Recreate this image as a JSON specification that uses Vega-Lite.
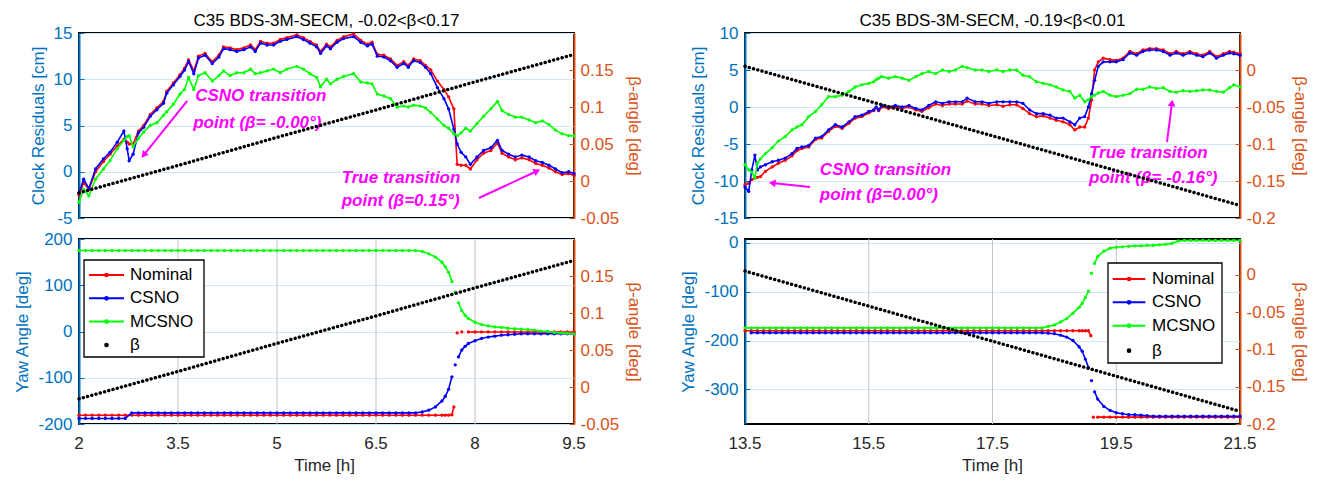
{
"$schema": "https://vega.github.io/schema/vega-lite/v6.json",
"background": "white",
"padding": {"left": 12, "top": 11, "right": 0, "bottom": 0},
"config": {
 "font": "Liberation Sans",
 "view": {"stroke": "#000000", "strokeWidth": 2},
 "axis": {"labelFont": "Liberation Sans", "titleFont": "Liberation Sans", "labelFontSize": 17, "titleFontSize": 17, "titleFontWeight": "normal"},
 "title": {"font": "Liberation Sans", "fontSize": 17, "fontWeight": "normal", "color": "#000000"}
},
"datasets": {
 "lt": [
  {"t":2.00,"n":-2.5,"c":-2.3,"m":-3.3},{"t":2.07,"n":-1.2,"c":-0.8,"m":-1.9},{"t":2.15,"n":-1.9,"c":-1.8,"m":-2.6},{"t":2.25,"n":0.0,"c":0.3,"m":-0.8},
  {"t":2.37,"n":1.1,"c":1.4,"m":0.3},{"t":2.47,"n":1.9,"c":2.1,"m":1.2},{"t":2.58,"n":2.8,"c":3.2,"m":2.5},{"t":2.68,"n":3.5,"c":4.4,"m":3.4},
  {"t":2.73,"n":3.2,"c":2.5,"m":3.8},{"t":2.76,"n":3.0,"c":1.2,"m":3.9},{"t":2.82,"n":3.0,"c":1.9,"m":2.7},{"t":2.90,"n":4.4,"c":4.2,"m":3.6},
  {"t":2.98,"n":5.0,"c":4.8,"m":4.3},{"t":3.08,"n":6.2,"c":6.0,"m":5.0},{"t":3.18,"n":6.9,"c":6.7,"m":5.3},{"t":3.28,"n":7.6,"c":7.4,"m":6.1},
  {"t":3.33,"n":8.7,"c":8.5,"m":6.5},{"t":3.43,"n":9.6,"c":9.4,"m":7.3},{"t":3.53,"n":10.5,"c":10.3,"m":8.4},{"t":3.60,"n":11.2,"c":11.0,"m":8.9},
  {"t":3.66,"n":12.1,"c":11.9,"m":10.2},{"t":3.74,"n":10.9,"c":10.6,"m":8.9},{"t":3.81,"n":12.5,"c":12.3,"m":10.4},{"t":3.91,"n":12.8,"c":12.6,"m":10.7},
  {"t":4.02,"n":11.9,"c":11.7,"m":9.8},{"t":4.12,"n":12.6,"c":12.4,"m":10.4},{"t":4.19,"n":13.5,"c":13.3,"m":10.9},{"t":4.29,"n":13.4,"c":13.2,"m":10.4},
  {"t":4.39,"n":13.2,"c":13.0,"m":10.7},{"t":4.50,"n":13.4,"c":13.2,"m":10.7},{"t":4.60,"n":13.7,"c":13.5,"m":11.1},{"t":4.67,"n":13.2,"c":13.0,"m":10.6},
  {"t":4.75,"n":14.1,"c":13.9,"m":10.7},{"t":4.85,"n":13.9,"c":13.7,"m":10.9},{"t":4.95,"n":13.9,"c":13.7,"m":11.1},{"t":5.05,"n":14.3,"c":14.1,"m":10.7},
  {"t":5.15,"n":14.5,"c":14.3,"m":11.1},{"t":5.30,"n":14.8,"c":14.6,"m":11.4},{"t":5.40,"n":14.5,"c":14.3,"m":11.1},{"t":5.50,"n":14.1,"c":13.9,"m":10.6},
  {"t":5.60,"n":13.7,"c":13.5,"m":10.2},{"t":5.66,"n":13.0,"c":12.8,"m":9.2},{"t":5.75,"n":13.8,"c":13.6,"m":10.0},{"t":5.81,"n":13.5,"c":13.3,"m":9.5},
  {"t":5.91,"n":14.2,"c":14.0,"m":10.0},{"t":6.01,"n":14.6,"c":14.4,"m":10.3},{"t":6.16,"n":14.9,"c":14.6,"m":10.6},{"t":6.27,"n":14.2,"c":14.0,"m":9.7},
  {"t":6.37,"n":13.8,"c":13.6,"m":9.6},{"t":6.44,"n":14.0,"c":13.8,"m":9.5},{"t":6.52,"n":12.7,"c":12.5,"m":8.4},{"t":6.62,"n":12.6,"c":12.4,"m":8.2},
  {"t":6.72,"n":12.2,"c":12.0,"m":7.9},{"t":6.82,"n":11.5,"c":11.3,"m":7.0},{"t":6.92,"n":11.9,"c":11.7,"m":7.1},{"t":6.99,"n":11.5,"c":11.3,"m":7.0},
  {"t":7.07,"n":12.2,"c":12.0,"m":7.2},{"t":7.17,"n":12.0,"c":11.8,"m":7.1},{"t":7.25,"n":11.5,"c":11.3,"m":6.9},{"t":7.33,"n":11.0,"c":10.6,"m":6.4},
  {"t":7.43,"n":9.8,"c":9.1,"m":5.7},{"t":7.53,"n":8.9,"c":7.9,"m":5.0},{"t":7.60,"n":8.1,"c":6.8,"m":4.7},{"t":7.68,"n":6.8,"c":4.6,"m":4.1},
  {"t":7.73,"n":0.8,"c":3.0,"m":3.9},{"t":7.79,"n":0.7,"c":2.1,"m":4.2},{"t":7.86,"n":0.7,"c":1.6,"m":4.7},{"t":7.93,"n":0.3,"c":0.8,"m":4.4},
  {"t":8.03,"n":1.3,"c":1.6,"m":5.2},{"t":8.13,"n":2.0,"c":2.3,"m":6.0},{"t":8.24,"n":2.3,"c":2.6,"m":6.8},{"t":8.34,"n":3.1,"c":3.4,"m":7.6},
  {"t":8.41,"n":2.0,"c":2.3,"m":6.6},{"t":8.51,"n":1.6,"c":1.9,"m":6.2},{"t":8.61,"n":1.3,"c":1.6,"m":5.9},{"t":8.71,"n":1.5,"c":1.8,"m":5.9},
  {"t":8.82,"n":1.3,"c":1.6,"m":5.6},{"t":8.92,"n":0.9,"c":1.2,"m":5.3},{"t":9.02,"n":0.7,"c":1.0,"m":5.5},{"t":9.12,"n":0.4,"c":0.7,"m":5.1},
  {"t":9.22,"n":0.0,"c":0.3,"m":4.5},{"t":9.32,"n":-0.3,"c":-0.1,"m":4.1},{"t":9.42,"n":-0.2,"c":0.0,"m":3.9},{"t":9.50,"n":-0.4,"c":-0.2,"m":3.9}
 ],
 "rt": [
  {"t":13.50,"n":-10.5,"c":-10.8,"m":-7.8},{"t":13.56,"n":-10.3,"c":-11.4,"m":-8.5},{"t":13.61,"n":-9.8,"c":-8.5,"m":-8.8},{"t":13.66,"n":-9.6,"c":-6.5,"m":-9.6},
  {"t":13.70,"n":-9.5,"c":-8.5,"m":-7.6},{"t":13.75,"n":-9.4,"c":-8.1,"m":-7.0},{"t":13.83,"n":-8.7,"c":-7.8,"m":-6.3},{"t":13.94,"n":-8.1,"c":-7.4,"m":-5.5},
  {"t":14.04,"n":-7.6,"c":-7.2,"m":-4.6},{"t":14.15,"n":-7.2,"c":-6.9,"m":-4.0},{"t":14.26,"n":-6.6,"c":-6.3,"m":-3.1},{"t":14.34,"n":-5.9,"c":-5.6,"m":-2.7},
  {"t":14.42,"n":-5.6,"c":-5.4,"m":-2.4},{"t":14.53,"n":-5.4,"c":-5.2,"m":-1.3},{"t":14.64,"n":-4.4,"c":-4.2,"m":-0.6},{"t":14.74,"n":-4.2,"c":-4.0,"m":0.3},
  {"t":14.85,"n":-3.3,"c":-3.1,"m":1.4},{"t":14.96,"n":-2.6,"c":-2.4,"m":1.4},{"t":15.07,"n":-2.9,"c":-2.7,"m":1.6},{"t":15.18,"n":-2.2,"c":-2.0,"m":2.1},
  {"t":15.28,"n":-1.5,"c":-1.3,"m":2.7},{"t":15.39,"n":-1.3,"c":-1.1,"m":3.0},{"t":15.50,"n":-0.8,"c":-0.6,"m":3.2},{"t":15.58,"n":-0.5,"c":-0.4,"m":3.4},
  {"t":15.62,"n":-0.1,"c":0.0,"m":3.7},{"t":15.66,"n":-0.5,"c":-0.4,"m":3.9},{"t":15.71,"n":0.0,"c":0.2,"m":4.1},{"t":15.82,"n":-0.2,"c":0.0,"m":3.9},
  {"t":15.93,"n":0.0,"c":0.2,"m":4.1},{"t":16.04,"n":-0.2,"c":0.0,"m":3.9},{"t":16.15,"n":0.0,"c":0.2,"m":3.6},{"t":16.26,"n":-0.4,"c":-0.2,"m":4.1},
  {"t":16.36,"n":-0.6,"c":-0.4,"m":4.5},{"t":16.47,"n":-0.1,"c":0.2,"m":4.8},{"t":16.58,"n":0.4,"c":0.7,"m":4.5},{"t":16.69,"n":0.2,"c":0.5,"m":5.0},
  {"t":16.80,"n":0.4,"c":0.7,"m":4.8},{"t":16.90,"n":0.4,"c":0.7,"m":5.0},{"t":17.01,"n":0.4,"c":0.7,"m":5.5},{"t":17.09,"n":0.8,"c":1.2,"m":5.3},
  {"t":17.22,"n":0.4,"c":0.7,"m":5.0},{"t":17.33,"n":0.4,"c":0.7,"m":5.0},{"t":17.44,"n":0.2,"c":0.5,"m":4.8},{"t":17.57,"n":0.3,"c":0.7,"m":5.0},
  {"t":17.67,"n":0.1,"c":0.7,"m":4.8},{"t":17.78,"n":0.3,"c":0.7,"m":5.0},{"t":17.89,"n":0.3,"c":0.7,"m":5.0},{"t":17.99,"n":-0.2,"c":0.5,"m":4.3},
  {"t":18.10,"n":-0.9,"c":-0.4,"m":4.1},{"t":18.21,"n":-1.3,"c":-0.9,"m":3.4},{"t":18.32,"n":-1.2,"c":-0.9,"m":3.2},{"t":18.43,"n":-1.5,"c":-1.1,"m":3.0},
  {"t":18.53,"n":-1.8,"c":-1.5,"m":2.7},{"t":18.64,"n":-2.0,"c":-1.5,"m":2.3},{"t":18.75,"n":-2.4,"c":-2.0,"m":2.1},{"t":18.83,"n":-3.1,"c":-2.4,"m":1.2},
  {"t":18.91,"n":-2.7,"c":-1.5,"m":1.6},{"t":18.99,"n":-2.7,"c":-1.3,"m":0.7},{"t":19.05,"n":-1.5,"c":0.0,"m":1.0},{"t":19.10,"n":0.9,"c":1.8,"m":1.4},
  {"t":19.15,"n":5.0,"c":3.6,"m":1.6},{"t":19.21,"n":6.1,"c":5.5,"m":1.9},{"t":19.29,"n":6.6,"c":6.1,"m":2.1},{"t":19.40,"n":6.4,"c":6.1,"m":1.6},
  {"t":19.50,"n":6.3,"c":6.1,"m":1.4},{"t":19.61,"n":6.6,"c":6.4,"m":1.6},{"t":19.72,"n":7.5,"c":7.3,"m":1.8},{"t":19.83,"n":7.2,"c":7.0,"m":2.4},
  {"t":19.93,"n":7.7,"c":7.5,"m":2.4},{"t":20.04,"n":7.9,"c":7.7,"m":2.7},{"t":20.15,"n":7.9,"c":7.7,"m":2.5},{"t":20.26,"n":7.7,"c":7.5,"m":2.6},
  {"t":20.37,"n":7.2,"c":7.0,"m":2.1},{"t":20.47,"n":7.5,"c":7.3,"m":2.0},{"t":20.58,"n":7.2,"c":7.0,"m":2.2},{"t":20.69,"n":7.5,"c":7.3,"m":2.1},
  {"t":20.80,"n":7.2,"c":7.0,"m":2.2},{"t":20.90,"n":7.0,"c":6.8,"m":2.3},{"t":21.01,"n":7.5,"c":7.3,"m":2.3},{"t":21.12,"n":6.8,"c":6.6,"m":2.1},
  {"t":21.23,"n":7.2,"c":7.0,"m":2.0},{"t":21.33,"n":7.5,"c":7.3,"m":2.6},{"t":21.40,"n":7.4,"c":7.2,"m":3.0},{"t":21.50,"n":7.2,"c":7.0,"m":2.7}
 ],
 "lb": [
  {"t":2.0,"n":-181,"c":-188,"m":175},{"t":2.1,"n":-181,"c":-188,"m":175},{"t":2.2,"n":-181,"c":-188,"m":175},{"t":2.3,"n":-181,"c":-188,"m":175},
  {"t":2.4,"n":-181,"c":-188,"m":175},{"t":2.5,"n":-181,"c":-188,"m":175},{"t":2.6,"n":-181,"c":-188,"m":175},{"t":2.7,"n":-181,"c":-188,"m":175},
  {"t":2.8,"n":-181,"c":-176,"m":175},{"t":2.9,"n":-181,"c":-176,"m":175},{"t":3.0,"n":-181,"c":-176,"m":175},{"t":3.1,"n":-181,"c":-176,"m":175},
  {"t":3.2,"n":-181,"c":-176,"m":175},{"t":3.3,"n":-181,"c":-176,"m":175},{"t":3.4,"n":-181,"c":-176,"m":175},{"t":3.5,"n":-181,"c":-176,"m":175},
  {"t":3.6,"n":-181,"c":-176,"m":175},{"t":3.7,"n":-181,"c":-176,"m":175},{"t":3.8,"n":-181,"c":-176,"m":175},{"t":3.9,"n":-181,"c":-176,"m":175},
  {"t":4.0,"n":-181,"c":-176,"m":175},{"t":4.1,"n":-181,"c":-176,"m":175},{"t":4.2,"n":-181,"c":-176,"m":175},{"t":4.3,"n":-181,"c":-176,"m":175},
  {"t":4.4,"n":-181,"c":-176,"m":175},{"t":4.5,"n":-181,"c":-176,"m":175},{"t":4.6,"n":-181,"c":-176,"m":175},{"t":4.7,"n":-181,"c":-176,"m":175},
  {"t":4.8,"n":-181,"c":-176,"m":175},{"t":4.9,"n":-181,"c":-176,"m":175},{"t":5.0,"n":-181,"c":-176,"m":175},{"t":5.1,"n":-181,"c":-176,"m":175},
  {"t":5.2,"n":-181,"c":-176,"m":175},{"t":5.3,"n":-181,"c":-176,"m":175},{"t":5.4,"n":-181,"c":-176,"m":175},{"t":5.5,"n":-181,"c":-176,"m":175},
  {"t":5.6,"n":-181,"c":-176,"m":175},{"t":5.7,"n":-181,"c":-176,"m":175},{"t":5.8,"n":-181,"c":-176,"m":175},{"t":5.9,"n":-181,"c":-176,"m":175},
  {"t":6.0,"n":-181,"c":-176,"m":175},{"t":6.1,"n":-181,"c":-176,"m":175},{"t":6.2,"n":-181,"c":-176,"m":175},{"t":6.3,"n":-181,"c":-176,"m":175},
  {"t":6.4,"n":-181,"c":-176,"m":175},{"t":6.5,"n":-181,"c":-176,"m":175},{"t":6.6,"n":-181,"c":-176,"m":175},{"t":6.7,"n":-181,"c":-176,"m":175},
  {"t":6.8,"n":-181,"c":-176,"m":175},{"t":6.9,"n":-181,"c":-176,"m":175},{"t":7.0,"n":-181,"c":-176,"m":175},{"t":7.1,"n":-181,"c":-176,"m":175},
  {"t":7.2,"n":-181,"c":-174,"m":173},{"t":7.3,"n":-181,"c":-170,"m":168},{"t":7.4,"n":-181,"c":-163,"m":161},{"t":7.5,"n":-181,"c":-150,"m":150},
  {"t":7.55,"n":-181,"c":-140,"m":140},{"t":7.6,"n":-181,"c":-125,"m":128},{"t":7.65,"n":-180,"c":-98,"m":108},{"t":7.68,"n":-163},
  {"t":7.7,"c":-72,"m":85},{"t":7.73,"n":-3},{"t":7.75,"c":-55,"m":62},{"t":7.8,"n":-1,"c":-40,"m":45},{"t":7.85,"c":-32,"m":35},
  {"t":7.9,"n":-1,"c":-26,"m":28},{"t":8.0,"n":-1,"c":-20,"m":20},{"t":8.1,"n":-1,"c":-15,"m":15},{"t":8.2,"n":-1,"c":-12,"m":12},
  {"t":8.3,"n":-1,"c":-10,"m":10},{"t":8.4,"n":-1,"c":-8,"m":9},{"t":8.5,"n":-1,"c":-7,"m":7},{"t":8.6,"n":-1,"c":-6,"m":6},
  {"t":8.7,"n":-1,"c":-5,"m":5},{"t":8.8,"n":-1,"c":-5,"m":4},{"t":8.9,"n":-1,"c":-5,"m":3},{"t":9.0,"n":-1,"c":-5,"m":1},
  {"t":9.1,"n":-1,"c":-5,"m":0},{"t":9.2,"n":-1,"c":-5,"m":-2},{"t":9.3,"n":-1,"c":-5,"m":-3},{"t":9.4,"n":-1,"c":-5,"m":-4},{"t":9.5,"n":-1,"c":-5,"m":-5}
 ],
 "rb": [
  {"t":13.5,"n":-180,"m":-174},
  {"t":13.6,"n":-180,"c":-184,"m":-174},{"t":13.7,"n":-180,"c":-184,"m":-174},{"t":13.8,"n":-180,"c":-184,"m":-174},{"t":13.9,"n":-180,"c":-184,"m":-174},
  {"t":14.0,"n":-180,"c":-184,"m":-174},{"t":14.1,"n":-180,"c":-184,"m":-174},{"t":14.2,"n":-180,"c":-184,"m":-174},{"t":14.3,"n":-180,"c":-184,"m":-174},
  {"t":14.4,"n":-180,"c":-184,"m":-174},{"t":14.5,"n":-180,"c":-184,"m":-174},{"t":14.6,"n":-180,"c":-184,"m":-174},{"t":14.7,"n":-180,"c":-184,"m":-174},
  {"t":14.8,"n":-180,"c":-184,"m":-174},{"t":14.9,"n":-180,"c":-184,"m":-174},{"t":15.0,"n":-180,"c":-184,"m":-174},{"t":15.1,"n":-180,"c":-184,"m":-174},
  {"t":15.2,"n":-180,"c":-184,"m":-174},{"t":15.3,"n":-180,"c":-184,"m":-174},{"t":15.4,"n":-180,"c":-184,"m":-174},{"t":15.5,"n":-180,"c":-184,"m":-174},
  {"t":15.6,"n":-180,"c":-184,"m":-174},{"t":15.7,"n":-180,"c":-184,"m":-174},{"t":15.8,"n":-180,"c":-184,"m":-174},{"t":15.9,"n":-180,"c":-184,"m":-174},
  {"t":16.0,"n":-180,"c":-184,"m":-174},{"t":16.1,"n":-180,"c":-184,"m":-174},{"t":16.2,"n":-180,"c":-184,"m":-174},{"t":16.3,"n":-180,"c":-184,"m":-174},
  {"t":16.4,"n":-180,"c":-184,"m":-174},{"t":16.5,"n":-180,"c":-184,"m":-174},{"t":16.6,"n":-180,"c":-184,"m":-174},{"t":16.7,"n":-180,"c":-184,"m":-174},
  {"t":16.8,"n":-180,"c":-184,"m":-174},{"t":16.9,"n":-180,"c":-184,"m":-174},{"t":17.0,"n":-180,"c":-184,"m":-174},{"t":17.1,"n":-180,"c":-184,"m":-174},
  {"t":17.2,"n":-180,"c":-184,"m":-174},{"t":17.3,"n":-180,"c":-184,"m":-174},{"t":17.4,"n":-180,"c":-184,"m":-174},{"t":17.5,"n":-180,"c":-184,"m":-174},
  {"t":17.6,"n":-180,"c":-184,"m":-174},{"t":17.7,"n":-180,"c":-184,"m":-174},{"t":17.8,"n":-180,"c":-184,"m":-174},{"t":17.9,"n":-180,"c":-184,"m":-174},
  {"t":18.0,"n":-180,"c":-184,"m":-174},{"t":18.1,"n":-180,"c":-184,"m":-174},{"t":18.2,"n":-180,"c":-184,"m":-174},{"t":18.3,"n":-180,"c":-184,"m":-174},
  {"t":18.4,"n":-180,"c":-185,"m":-171},{"t":18.5,"n":-180,"c":-186,"m":-168},{"t":18.6,"n":-180,"c":-189,"m":-162},{"t":18.7,"n":-180,"c":-193,"m":-155},
  {"t":18.8,"n":-180,"c":-200,"m":-144},{"t":18.9,"n":-180,"c":-213,"m":-132},{"t":18.95,"n":-180,"c":-222,"m":-124},{"t":19.0,"n":-180,"c":-238,"m":-112},
  {"t":19.05,"n":-180,"c":-255,"m":-99},{"t":19.09,"n":-190},{"t":19.1,"c":-282,"m":-62},{"t":19.13,"n":-357},{"t":19.15,"c":-305,"m":-42},
  {"t":19.2,"n":-357,"c":-320,"m":-28},{"t":19.3,"n":-357,"c":-335,"m":-17},{"t":19.4,"n":-357,"c":-343,"m":-11},{"t":19.5,"n":-357,"c":-348,"m":-9},
  {"t":19.6,"n":-357,"c":-350,"m":-8},{"t":19.7,"n":-357,"c":-352,"m":-7},{"t":19.8,"n":-357,"c":-352,"m":-6},{"t":19.9,"n":-357,"c":-353,"m":-6},
  {"t":20.0,"n":-357,"c":-354,"m":-5},{"t":20.1,"n":-357,"c":-355,"m":-5},{"t":20.2,"n":-357,"c":-355,"m":-4},{"t":20.3,"n":-357,"c":-355,"m":-3},
  {"t":20.4,"n":-357,"c":-355,"m":-1},{"t":20.5,"n":-357,"c":-355,"m":4},{"t":20.6,"n":-357,"c":-355,"m":5},{"t":20.7,"n":-357,"c":-355,"m":5},
  {"t":20.8,"n":-357,"c":-355,"m":5},{"t":20.9,"n":-357,"c":-355,"m":5},{"t":21.0,"n":-357,"c":-355,"m":5},{"t":21.1,"n":-357,"c":-355,"m":5},
  {"t":21.2,"n":-357,"c":-355,"m":5},{"t":21.3,"n":-357,"c":-355,"m":5},{"t":21.4,"n":-357,"c":-355,"m":5},{"t":21.5,"n":-357,"c":-355,"m":5}
 ],
 "bl": [{"t":2,"b":-0.016},{"t":3.5,"b":0.021},{"t":5,"b":0.059},{"t":6.5,"b":0.096},{"t":8,"b":0.134},{"t":9.5,"b":0.171}],
 "br": [{"t":13.5,"b":0.005},{"t":15.5,"b":-0.042},{"t":17.5,"b":-0.089},{"t":19.5,"b":-0.136},{"t":21.5,"b":-0.183}],
 "lta": [{"t":3.76,"v":8.19,"label":"CSNO transition"},{"t":3.73,"v":5.27,"label":"point (β= -0.00°)"},{"t":5.98,"v":-0.64,"label":"True transition"},{"t":5.98,"v":-3.16,"label":"point (β=0.15°)"}],
 "rta": [{"t":14.71,"v":-8.51,"label":"CSNO transition"},{"t":14.71,"v":-11.89,"label":"point (β=0.00°)"},{"t":19.06,"v":-6.22,"label":"True transition"},{"t":19.06,"v":-9.64,"label":"point (β= -0.16°)"}],
 "legL": [{"s":"Nominal","y":122.2},{"s":"CSNO","y":71.8},{"s":"MCSNO","y":21.4},{"s":"β","y":-29.2}],
 "legR": [{"s":"Nominal","y":-73.9},{"s":"CSNO","y":-121.7},{"s":"MCSNO","y":-169.6},{"s":"β","y":-220.8}],
 "tkL": [{"t":2,"label":"2"},{"t":3.5,"label":"3.5"},{"t":5,"label":"5"},{"t":6.5,"label":"6.5"},{"t":8,"label":"8"},{"t":9.5,"label":"9.5"}],
 "tkR": [{"t":13.5,"label":"13.5"},{"t":15.5,"label":"15.5"},{"t":17.5,"label":"17.5"},{"t":19.5,"label":"19.5"},{"t":21.5,"label":"21.5"}]
},
"columns": 2,
"spacing": {"row": 2, "column": 34},
"concat": [
   {
    "width": 495, "height": 185,
    "title": {"text": "C35 BDS-3M-SECM, -0.02<β<0.17", "frame": "group", "offset": -6},
    "resolve": {"scale": {"y": "independent"}},
    "layer": [
      {"data": {"name": "lt"}, "mark": {"type": "line", "color": "#ff0000", "strokeWidth": 1.6, "point": {"filled": true, "size": 11, "color": "#ff0000"}},
       "encoding": {
        "x": {"field": "t", "type": "quantitative", "scale": {"domain": [2, 9.5], "nice": false, "zero": false},
              "axis": {"orient": "bottom", "values": [2, 3.5, 5, 6.5, 8, 9.5], "labels": false, "ticks": false, "title": null, "domainColor": "#262626", "domainWidth": 2, "grid": false}},
        "y": {"field": "n", "type": "quantitative", "scale": {"domain": [-5, 15], "nice": false, "zero": false},
              "axis": {"orient": "left", "values": [-5, 0, 5, 10, 15], "title": "Clock Residuals [cm]", "titleColor": "#0072BD", "labelColor": "#0072BD", "domainColor": "#0072BD", "domainWidth": 2, "tickColor": "#0072BD", "tickSize": -5, "labelPadding": 12, "titlePadding": 6, "grid": true, "gridColor": "#d2e6f5", "labelExpr": "'' + datum.value"}}}},
      {"data": {"name": "lt"}, "mark": {"type": "line", "color": "#0000ff", "strokeWidth": 1.6, "point": {"filled": true, "size": 11, "color": "#0000ff"}},
       "encoding": {"x": {"field": "t", "type": "quantitative", "scale": {"domain": [2, 9.5], "nice": false, "zero": false}, "axis": null},
        "y": {"field": "c", "type": "quantitative", "scale": {"domain": [-5, 15], "nice": false, "zero": false}, "axis": null}}},
      {"data": {"name": "lt"}, "mark": {"type": "line", "color": "#00ff00", "strokeWidth": 1.6, "point": {"filled": true, "size": 11, "color": "#00ff00"}},
       "encoding": {"x": {"field": "t", "type": "quantitative", "scale": {"domain": [2, 9.5], "nice": false, "zero": false}, "axis": null},
        "y": {"field": "m", "type": "quantitative", "scale": {"domain": [-5, 15], "nice": false, "zero": false}, "axis": null}}},
      {"data": {"name": "lta"}, "mark": {"type": "text", "color": "#ff00ff", "fontSize": 17, "fontWeight": "bold", "fontStyle": "italic", "align": "left", "baseline": "middle"},
       "encoding": {"x": {"field": "t", "type": "quantitative", "scale": {"domain": [2, 9.5], "nice": false, "zero": false}, "axis": null},
        "y": {"field": "v", "type": "quantitative", "scale": {"domain": [-5, 15], "nice": false, "zero": false}, "axis": null}, "text": {"field": "label"}}},
      {"data": {"values": [{"t1": 3.64, "v1": 7.65, "t2": 2.98, "v2": 1.81}]}, "mark": {"type": "rule", "color": "#ff00ff", "strokeWidth": 2},
       "encoding": {"x": {"field": "t1", "type": "quantitative", "scale": {"domain": [2, 9.5], "nice": false, "zero": false}, "axis": null},
        "y": {"field": "v1", "type": "quantitative", "scale": {"domain": [-5, 15], "nice": false, "zero": false}, "axis": null}, "x2": {"field": "t2"}, "y2": {"field": "v2"}}},
      {"data": {"values": [{"t2": 2.98, "v2": 1.81}]}, "mark": {"type": "point", "shape": "triangle-up", "angle": 218, "filled": true, "opacity": 1, "color": "#ff00ff", "size": 60},
       "encoding": {"x": {"field": "t2", "type": "quantitative", "scale": {"domain": [2, 9.5], "nice": false, "zero": false}, "axis": null},
        "y": {"field": "v2", "type": "quantitative", "scale": {"domain": [-5, 15], "nice": false, "zero": false}, "axis": null}}},
      {"data": {"values": [{"t1": 8.06, "v1": -2.84, "t2": 8.94, "v2": 0.08}]}, "mark": {"type": "rule", "color": "#ff00ff", "strokeWidth": 2},
       "encoding": {"x": {"field": "t1", "type": "quantitative", "scale": {"domain": [2, 9.5], "nice": false, "zero": false}, "axis": null},
        "y": {"field": "v1", "type": "quantitative", "scale": {"domain": [-5, 15], "nice": false, "zero": false}, "axis": null}, "x2": {"field": "t2"}, "y2": {"field": "v2"}}},
      {"data": {"values": [{"t2": 8.94, "v2": 0.08}]}, "mark": {"type": "point", "shape": "triangle-up", "angle": 65, "filled": true, "opacity": 1, "color": "#ff00ff", "size": 60},
       "encoding": {"x": {"field": "t2", "type": "quantitative", "scale": {"domain": [2, 9.5], "nice": false, "zero": false}, "axis": null},
        "y": {"field": "v2", "type": "quantitative", "scale": {"domain": [-5, 15], "nice": false, "zero": false}, "axis": null}}},
      {"data": {"name": "bl"}, "mark": {"type": "line", "color": "#000000", "strokeWidth": 3.4, "strokeDash": [0.1, 4.3], "strokeCap": "round"},
       "encoding": {"x": {"field": "t", "type": "quantitative", "scale": {"domain": [2, 9.5], "nice": false, "zero": false}, "axis": null},
        "y": {"field": "b", "type": "quantitative", "scale": {"domain": [-0.05, 0.2], "nice": false, "zero": false},
              "axis": {"orient": "right", "values": [-0.05, 0, 0.05, 0.1, 0.15], "title": "β-angle [deg]", "titleColor": "#D95319", "labelColor": "#D95319", "domainColor": "#D95319", "domainWidth": 2, "tickColor": "#D95319", "tickSize": -5, "labelPadding": 11, "titlePadding": 6, "grid": false, "labelExpr": "'' + datum.value"}}}}
    ]
   },
   {
    "width": 495, "height": 185,
    "title": {"text": "C35 BDS-3M-SECM, -0.19<β<0.01", "frame": "group", "offset": -6},
    "resolve": {"scale": {"y": "independent"}},
    "layer": [
      {"data": {"name": "rt"}, "mark": {"type": "line", "color": "#ff0000", "strokeWidth": 1.6, "point": {"filled": true, "size": 11, "color": "#ff0000"}},
       "encoding": {
        "x": {"field": "t", "type": "quantitative", "scale": {"domain": [13.5, 21.5], "nice": false, "zero": false},
              "axis": {"orient": "bottom", "values": [13.5, 15.5, 17.5, 19.5, 21.5], "labels": false, "ticks": false, "title": null, "domainColor": "#262626", "domainWidth": 2, "grid": true, "gridColor": "#c4c4c4"}},
        "y": {"field": "n", "type": "quantitative", "scale": {"domain": [-15, 10], "nice": false, "zero": false},
              "axis": {"orient": "left", "values": [-15, -10, -5, 0, 5, 10], "title": "Clock Residuals [cm]", "titleColor": "#0072BD", "labelColor": "#0072BD", "domainColor": "#0072BD", "domainWidth": 2, "tickColor": "#0072BD", "tickSize": -5, "labelPadding": 12, "titlePadding": 6, "grid": true, "gridColor": "#d2e6f5", "labelExpr": "'' + datum.value"}}}},
      {"data": {"name": "rt"}, "mark": {"type": "line", "color": "#0000ff", "strokeWidth": 1.6, "point": {"filled": true, "size": 11, "color": "#0000ff"}},
       "encoding": {"x": {"field": "t", "type": "quantitative", "scale": {"domain": [13.5, 21.5], "nice": false, "zero": false}, "axis": null},
        "y": {"field": "c", "type": "quantitative", "scale": {"domain": [-15, 10], "nice": false, "zero": false}, "axis": null}}},
      {"data": {"name": "rt"}, "mark": {"type": "line", "color": "#00ff00", "strokeWidth": 1.6, "point": {"filled": true, "size": 11, "color": "#00ff00"}},
       "encoding": {"x": {"field": "t", "type": "quantitative", "scale": {"domain": [13.5, 21.5], "nice": false, "zero": false}, "axis": null},
        "y": {"field": "m", "type": "quantitative", "scale": {"domain": [-15, 10], "nice": false, "zero": false}, "axis": null}}},
      {"data": {"name": "rta"}, "mark": {"type": "text", "color": "#ff00ff", "fontSize": 17, "fontWeight": "bold", "fontStyle": "italic", "align": "left", "baseline": "middle"},
       "encoding": {"x": {"field": "t", "type": "quantitative", "scale": {"domain": [13.5, 21.5], "nice": false, "zero": false}, "axis": null},
        "y": {"field": "v", "type": "quantitative", "scale": {"domain": [-15, 10], "nice": false, "zero": false}, "axis": null}, "text": {"field": "label"}}},
      {"data": {"values": [{"t1": 14.55, "v1": -10.81, "t2": 13.94, "v2": -10.27}]}, "mark": {"type": "rule", "color": "#ff00ff", "strokeWidth": 2},
       "encoding": {"x": {"field": "t1", "type": "quantitative", "scale": {"domain": [13.5, 21.5], "nice": false, "zero": false}, "axis": null},
        "y": {"field": "v1", "type": "quantitative", "scale": {"domain": [-15, 10], "nice": false, "zero": false}, "axis": null}, "x2": {"field": "t2"}, "y2": {"field": "v2"}}},
      {"data": {"values": [{"t2": 13.94, "v2": -10.27}]}, "mark": {"type": "point", "shape": "triangle-up", "angle": 276, "filled": true, "opacity": 1, "color": "#ff00ff", "size": 60},
       "encoding": {"x": {"field": "t2", "type": "quantitative", "scale": {"domain": [13.5, 21.5], "nice": false, "zero": false}, "axis": null},
        "y": {"field": "v2", "type": "quantitative", "scale": {"domain": [-15, 10], "nice": false, "zero": false}, "axis": null}}},
      {"data": {"values": [{"t1": 20.32, "v1": -4.73, "t2": 20.40, "v2": 0.54}]}, "mark": {"type": "rule", "color": "#ff00ff", "strokeWidth": 2},
       "encoding": {"x": {"field": "t1", "type": "quantitative", "scale": {"domain": [13.5, 21.5], "nice": false, "zero": false}, "axis": null},
        "y": {"field": "v1", "type": "quantitative", "scale": {"domain": [-15, 10], "nice": false, "zero": false}, "axis": null}, "x2": {"field": "t2"}, "y2": {"field": "v2"}}},
      {"data": {"values": [{"t2": 20.40, "v2": 0.54}]}, "mark": {"type": "point", "shape": "triangle-up", "angle": 7, "filled": true, "opacity": 1, "color": "#ff00ff", "size": 60},
       "encoding": {"x": {"field": "t2", "type": "quantitative", "scale": {"domain": [13.5, 21.5], "nice": false, "zero": false}, "axis": null},
        "y": {"field": "v2", "type": "quantitative", "scale": {"domain": [-15, 10], "nice": false, "zero": false}, "axis": null}}},
      {"data": {"name": "br"}, "mark": {"type": "line", "color": "#000000", "strokeWidth": 3.4, "strokeDash": [0.1, 4.3], "strokeCap": "round"},
       "encoding": {"x": {"field": "t", "type": "quantitative", "scale": {"domain": [13.5, 21.5], "nice": false, "zero": false}, "axis": null},
        "y": {"field": "b", "type": "quantitative", "scale": {"domain": [-0.2, 0.05], "nice": false, "zero": false},
              "axis": {"orient": "right", "values": [-0.2, -0.15, -0.1, -0.05, 0], "title": "β-angle [deg]", "titleColor": "#D95319", "labelColor": "#D95319", "domainColor": "#D95319", "domainWidth": 2, "tickColor": "#D95319", "tickSize": -5, "labelPadding": 11, "titlePadding": 6, "grid": false, "labelExpr": "'' + datum.value"}}}}
    ]
   },
   {
    "width": 495, "height": 185,
    "resolve": {"scale": {"y": "independent"}},
    "layer": [
      {"data": {"name": "tkL"}, "transform": [{"filter": "datum.t > 2 && datum.t < 9.5"}], "mark": {"type": "rule", "color": "#c4c4c4", "strokeWidth": 1},
       "encoding": {"x": {"field": "t", "type": "quantitative", "scale": {"domain": [2, 9.5], "nice": false, "zero": false}, "axis": null},
        "y": {"datum": -200, "type": "quantitative", "scale": {"domain": [-200, 200], "nice": false, "zero": false}, "axis": null}, "y2": {"datum": 200}}},
      {"data": {"name": "lb"}, "mark": {"type": "line", "color": "#ff0000", "strokeWidth": 1.6, "point": {"filled": true, "size": 11, "color": "#ff0000"}},
       "encoding": {
        "x": {"field": "t", "type": "quantitative", "scale": {"domain": [2, 9.5], "nice": false, "zero": false},
              "axis": {"orient": "bottom", "values": [2, 3.5, 5, 6.5, 8, 9.5], "labels": false, "ticks": false, "title": null, "domainColor": "#262626", "domainWidth": 2, "grid": false}},
        "y": {"field": "n", "type": "quantitative", "scale": {"domain": [-200, 200], "nice": false, "zero": false},
              "axis": {"orient": "left", "values": [-200, -100, 0, 100, 200], "title": "Yaw Angle [deg]", "titleColor": "#0072BD", "labelColor": "#0072BD", "domainColor": "#0072BD", "domainWidth": 2, "tickColor": "#0072BD", "tickSize": -5, "labelPadding": 12, "titlePadding": 6, "grid": true, "gridColor": "#d2e6f5", "labelExpr": "'' + datum.value"}}}},
      {"data": {"name": "lb"}, "mark": {"type": "line", "color": "#0000ff", "strokeWidth": 1.6, "point": {"filled": true, "size": 11, "color": "#0000ff"}},
       "encoding": {"x": {"field": "t", "type": "quantitative", "scale": {"domain": [2, 9.5], "nice": false, "zero": false}, "axis": null},
        "y": {"field": "c", "type": "quantitative", "scale": {"domain": [-200, 200], "nice": false, "zero": false}, "axis": null}}},
      {"data": {"name": "lb"}, "mark": {"type": "line", "color": "#00ff00", "strokeWidth": 1.6, "point": {"filled": true, "size": 11, "color": "#00ff00"}},
       "encoding": {"x": {"field": "t", "type": "quantitative", "scale": {"domain": [2, 9.5], "nice": false, "zero": false}, "axis": null},
        "y": {"field": "m", "type": "quantitative", "scale": {"domain": [-200, 200], "nice": false, "zero": false}, "axis": null}}},
      {"data": {"name": "bl"}, "mark": {"type": "line", "color": "#000000", "strokeWidth": 3.4, "strokeDash": [0.1, 4.3], "strokeCap": "round"},
       "encoding": {"x": {"field": "t", "type": "quantitative", "scale": {"domain": [2, 9.5], "nice": false, "zero": false}, "axis": null},
        "y": {"field": "b", "type": "quantitative", "scale": {"domain": [-0.05, 0.2], "nice": false, "zero": false},
              "axis": {"orient": "right", "values": [-0.05, 0, 0.05, 0.1, 0.15], "title": "β-angle [deg]", "titleColor": "#D95319", "labelColor": "#D95319", "domainColor": "#D95319", "domainWidth": 2, "tickColor": "#D95319", "tickSize": -5, "labelPadding": 11, "titlePadding": 6, "grid": false, "labelExpr": "'' + datum.value"}}}},
      {"data": {"values": [{"box": "legend"}]}, "mark": {"type": "rect", "fill": "#ffffff", "stroke": "#000000", "strokeWidth": 1.3},
       "encoding": {"x": {"datum": 2.076, "type": "quantitative", "scale": {"domain": [2, 9.5], "nice": false, "zero": false}, "axis": null}, "x2": {"datum": 3.894},
        "y": {"datum": 154.6, "type": "quantitative", "scale": {"domain": [-200, 200], "nice": false, "zero": false}, "axis": null}, "y2": {"datum": -55.1}}},
      {"data": {"name": "legL"}, "transform": [{"filter": "datum.s !== 'β'"}], "mark": {"type": "rule", "strokeWidth": 2},
       "encoding": {"x": {"datum": 2.152, "type": "quantitative", "scale": {"domain": [2, 9.5], "nice": false, "zero": false}, "axis": null}, "x2": {"datum": 2.682},
        "y": {"field": "y", "type": "quantitative", "scale": {"domain": [-200, 200], "nice": false, "zero": false}, "axis": null},
        "color": {"field": "s", "type": "nominal", "scale": {"domain": ["Nominal", "CSNO", "MCSNO", "β"], "range": ["#ff0000", "#0000ff", "#00ff00", "#000000"]}, "legend": null}}},
      {"data": {"name": "legL"}, "mark": {"type": "point", "filled": true, "opacity": 1, "size": 22},
       "encoding": {"x": {"datum": 2.417, "type": "quantitative", "scale": {"domain": [2, 9.5], "nice": false, "zero": false}, "axis": null},
        "y": {"field": "y", "type": "quantitative", "scale": {"domain": [-200, 200], "nice": false, "zero": false}, "axis": null},
        "color": {"field": "s", "type": "nominal", "scale": {"domain": ["Nominal", "CSNO", "MCSNO", "β"], "range": ["#ff0000", "#0000ff", "#00ff00", "#000000"]}, "legend": null}}},
      {"data": {"name": "legL"}, "mark": {"type": "text", "fontSize": 17, "align": "left", "baseline": "middle", "color": "#000000"},
       "encoding": {"x": {"datum": 2.773, "type": "quantitative", "scale": {"domain": [2, 9.5], "nice": false, "zero": false}, "axis": null},
        "y": {"field": "y", "type": "quantitative", "scale": {"domain": [-200, 200], "nice": false, "zero": false}, "axis": null},
        "text": {"field": "s"}}},
      {"data": {"name": "tkL"}, "mark": {"type": "text", "fontSize": 17, "align": "center", "baseline": "middle", "color": "#262626"},
       "encoding": {"x": {"field": "t", "type": "quantitative", "scale": {"domain": [2, 9.5], "nice": false, "zero": false}, "axis": null},
        "y": {"datum": -243.2, "type": "quantitative", "scale": {"domain": [-200, 200], "nice": false, "zero": false}, "axis": null},
        "text": {"field": "label"}}},
      {"data": {"values": [{"title": "Time [h]"}]}, "mark": {"type": "text", "fontSize": 17, "align": "center", "baseline": "middle", "color": "#262626"},
       "encoding": {"x": {"datum": 5.72, "type": "quantitative", "scale": {"domain": [2, 9.5], "nice": false, "zero": false}, "axis": null},
        "y": {"datum": -290.8, "type": "quantitative", "scale": {"domain": [-200, 200], "nice": false, "zero": false}, "axis": null},
        "text": {"field": "title"}}}
    ]
   },
   {
    "width": 495, "height": 185,
    "resolve": {"scale": {"y": "independent"}},
    "layer": [
      {"data": {"name": "tkR"}, "transform": [{"filter": "datum.t > 13.5 && datum.t < 21.5"}], "mark": {"type": "rule", "color": "#c4c4c4", "strokeWidth": 1},
       "encoding": {"x": {"field": "t", "type": "quantitative", "scale": {"domain": [13.5, 21.5], "nice": false, "zero": false}, "axis": null},
        "y": {"datum": -371, "type": "quantitative", "scale": {"domain": [-371, 8], "nice": false, "zero": false}, "axis": null}, "y2": {"datum": 8}}},
      {"data": {"name": "rb"}, "mark": {"type": "line", "color": "#ff0000", "strokeWidth": 1.6, "point": {"filled": true, "size": 11, "color": "#ff0000"}},
       "encoding": {
        "x": {"field": "t", "type": "quantitative", "scale": {"domain": [13.5, 21.5], "nice": false, "zero": false},
              "axis": {"orient": "bottom", "values": [13.5, 15.5, 17.5, 19.5, 21.5], "labels": false, "ticks": false, "title": null, "domainColor": "#262626", "domainWidth": 2, "grid": false}},
        "y": {"field": "n", "type": "quantitative", "scale": {"domain": [-371, 8], "nice": false, "zero": false},
              "axis": {"orient": "left", "values": [-300, -200, -100, 0], "title": "Yaw Angle [deg]", "titleColor": "#0072BD", "labelColor": "#0072BD", "domainColor": "#0072BD", "domainWidth": 2, "tickColor": "#0072BD", "tickSize": -5, "labelPadding": 12, "titlePadding": 6, "grid": true, "gridColor": "#d2e6f5", "labelExpr": "'' + datum.value"}}}},
      {"data": {"name": "rb"}, "mark": {"type": "line", "color": "#0000ff", "strokeWidth": 1.6, "point": {"filled": true, "size": 11, "color": "#0000ff"}},
       "encoding": {"x": {"field": "t", "type": "quantitative", "scale": {"domain": [13.5, 21.5], "nice": false, "zero": false}, "axis": null},
        "y": {"field": "c", "type": "quantitative", "scale": {"domain": [-371, 8], "nice": false, "zero": false}, "axis": null}}},
      {"data": {"name": "rb"}, "mark": {"type": "line", "color": "#00ff00", "strokeWidth": 1.6, "point": {"filled": true, "size": 11, "color": "#00ff00"}},
       "encoding": {"x": {"field": "t", "type": "quantitative", "scale": {"domain": [13.5, 21.5], "nice": false, "zero": false}, "axis": null},
        "y": {"field": "m", "type": "quantitative", "scale": {"domain": [-371, 8], "nice": false, "zero": false}, "axis": null}}},
      {"data": {"name": "br"}, "mark": {"type": "line", "color": "#000000", "strokeWidth": 3.4, "strokeDash": [0.1, 4.3], "strokeCap": "round"},
       "encoding": {"x": {"field": "t", "type": "quantitative", "scale": {"domain": [13.5, 21.5], "nice": false, "zero": false}, "axis": null},
        "y": {"field": "b", "type": "quantitative", "scale": {"domain": [-0.2, 0.048], "nice": false, "zero": false},
              "axis": {"orient": "right", "values": [-0.2, -0.15, -0.1, -0.05, 0], "title": "β-angle [deg]", "titleColor": "#D95319", "labelColor": "#D95319", "domainColor": "#D95319", "domainWidth": 2, "tickColor": "#D95319", "tickSize": -5, "labelPadding": 11, "titlePadding": 6, "grid": false, "labelExpr": "'' + datum.value"}}}},
      {"data": {"values": [{"box": "legend"}]}, "mark": {"type": "rect", "fill": "#ffffff", "stroke": "#000000", "strokeWidth": 1.3},
       "encoding": {"x": {"datum": 19.367, "type": "quantitative", "scale": {"domain": [13.5, 21.5], "nice": false, "zero": false}, "axis": null}, "x2": {"datum": 21.209},
        "y": {"datum": -41.2, "type": "quantitative", "scale": {"domain": [-371, 8], "nice": false, "zero": false}, "axis": null}, "y2": {"datum": -246.0}}},
      {"data": {"name": "legR"}, "transform": [{"filter": "datum.s !== 'β'"}], "mark": {"type": "rule", "strokeWidth": 2},
       "encoding": {"x": {"datum": 19.443, "type": "quantitative", "scale": {"domain": [13.5, 21.5], "nice": false, "zero": false}, "axis": null}, "x2": {"datum": 19.970},
        "y": {"field": "y", "type": "quantitative", "scale": {"domain": [-371, 8], "nice": false, "zero": false}, "axis": null},
        "color": {"field": "s", "type": "nominal", "scale": {"domain": ["Nominal", "CSNO", "MCSNO", "β"], "range": ["#ff0000", "#0000ff", "#00ff00", "#000000"]}, "legend": null}}},
      {"data": {"name": "legR"}, "mark": {"type": "point", "filled": true, "opacity": 1, "size": 22},
       "encoding": {"x": {"datum": 19.706, "type": "quantitative", "scale": {"domain": [13.5, 21.5], "nice": false, "zero": false}, "axis": null},
        "y": {"field": "y", "type": "quantitative", "scale": {"domain": [-371, 8], "nice": false, "zero": false}, "axis": null},
        "color": {"field": "s", "type": "nominal", "scale": {"domain": ["Nominal", "CSNO", "MCSNO", "β"], "range": ["#ff0000", "#0000ff", "#00ff00", "#000000"]}, "legend": null}}},
      {"data": {"name": "legR"}, "mark": {"type": "text", "fontSize": 17, "align": "left", "baseline": "middle", "color": "#000000"},
       "encoding": {"x": {"datum": 20.078, "type": "quantitative", "scale": {"domain": [13.5, 21.5], "nice": false, "zero": false}, "axis": null},
        "y": {"field": "y", "type": "quantitative", "scale": {"domain": [-371, 8], "nice": false, "zero": false}, "axis": null},
        "text": {"field": "s"}}},
      {"data": {"name": "tkR"}, "mark": {"type": "text", "fontSize": 17, "align": "center", "baseline": "middle", "color": "#262626"},
       "encoding": {"x": {"field": "t", "type": "quantitative", "scale": {"domain": [13.5, 21.5], "nice": false, "zero": false}, "axis": null},
        "y": {"datum": -412.0, "type": "quantitative", "scale": {"domain": [-371, 8], "nice": false, "zero": false}, "axis": null},
        "text": {"field": "label"}}},
      {"data": {"values": [{"title": "Time [h]"}]}, "mark": {"type": "text", "fontSize": 17, "align": "center", "baseline": "middle", "color": "#262626"},
       "encoding": {"x": {"datum": 17.5, "type": "quantitative", "scale": {"domain": [13.5, 21.5], "nice": false, "zero": false}, "axis": null},
        "y": {"datum": -457.0, "type": "quantitative", "scale": {"domain": [-371, 8], "nice": false, "zero": false}, "axis": null},
        "text": {"field": "title"}}}
    ]
   }
]
}
